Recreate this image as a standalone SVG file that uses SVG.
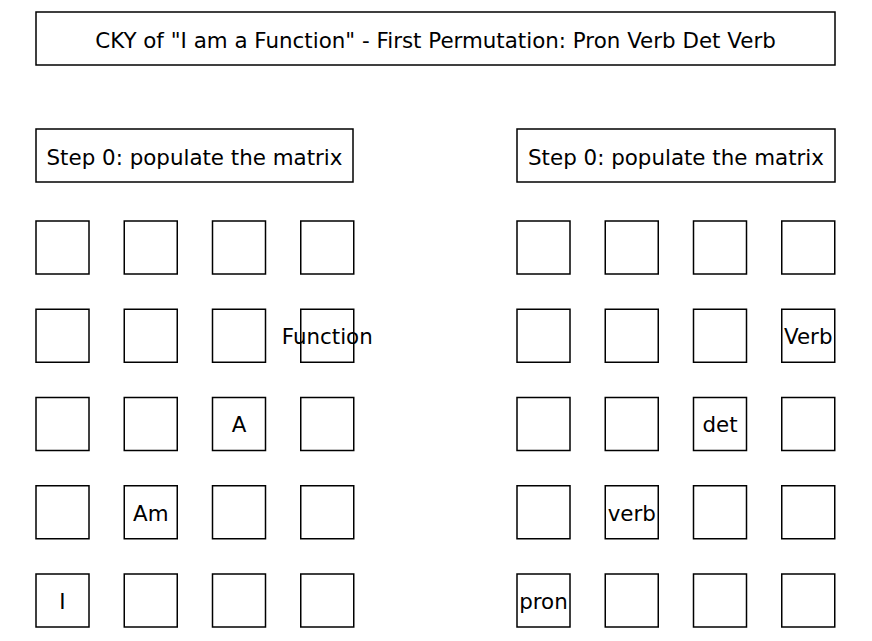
<svg xmlns="http://www.w3.org/2000/svg" width="872" height="641" viewBox="0 0 872 641">
<style>
rect{fill:#fff;stroke:#000;stroke-width:1.5}
text{font-family:"DejaVu Sans",sans-serif;font-size:21.4px;text-anchor:middle;dominant-baseline:central;fill:#000}
</style>
<rect x="0" y="0" width="872" height="641" style="stroke:none"/>
<g id="title"><rect x="36" y="12" width="799" height="53"/><text x="435.5" y="40">CKY of "I am a Function" - First Permutation: Pron Verb Det Verb</text></g>
<g id="stepL"><rect x="36" y="129" width="317" height="53"/><text x="194.5" y="157">Step 0: populate the matrix</text></g>
<g id="stepR"><rect x="517" y="129" width="318" height="53"/><text x="676" y="157">Step 0: populate the matrix</text></g>
<g id="gridL">
<g id="L11"><rect x="36" y="221" width="53" height="53"/></g>
<g id="L12"><rect x="124.25" y="221" width="53" height="53"/></g>
<g id="L13"><rect x="212.5" y="221" width="53" height="53"/></g>
<g id="L14"><rect x="300.75" y="221" width="53" height="53"/></g>
<g id="L21"><rect x="36" y="309.25" width="53" height="53"/></g>
<g id="L22"><rect x="124.25" y="309.25" width="53" height="53"/></g>
<g id="L23"><rect x="212.5" y="309.25" width="53" height="53"/></g>
<g id="L24"><rect x="300.75" y="309.25" width="53" height="53"/><text x="327.25" y="336.5">Function</text></g>
<g id="L31"><rect x="36" y="397.5" width="53" height="53"/></g>
<g id="L32"><rect x="124.25" y="397.5" width="53" height="53"/></g>
<g id="L33"><rect x="212.5" y="397.5" width="53" height="53"/><text x="239" y="424.75">A</text></g>
<g id="L34"><rect x="300.75" y="397.5" width="53" height="53"/></g>
<g id="L41"><rect x="36" y="485.75" width="53" height="53"/></g>
<g id="L42"><rect x="124.25" y="485.75" width="53" height="53"/><text x="150.75" y="513">Am</text></g>
<g id="L43"><rect x="212.5" y="485.75" width="53" height="53"/></g>
<g id="L44"><rect x="300.75" y="485.75" width="53" height="53"/></g>
<g id="L51"><rect x="36" y="574" width="53" height="53"/><text x="62.5" y="601.25">I</text></g>
<g id="L52"><rect x="124.25" y="574" width="53" height="53"/></g>
<g id="L53"><rect x="212.5" y="574" width="53" height="53"/></g>
<g id="L54"><rect x="300.75" y="574" width="53" height="53"/></g>
</g>
<g id="gridR">
<g id="R11"><rect x="517" y="221" width="53" height="53"/></g>
<g id="R12"><rect x="605.25" y="221" width="53" height="53"/></g>
<g id="R13"><rect x="693.5" y="221" width="53" height="53"/></g>
<g id="R14"><rect x="781.75" y="221" width="53" height="53"/></g>
<g id="R21"><rect x="517" y="309.25" width="53" height="53"/></g>
<g id="R22"><rect x="605.25" y="309.25" width="53" height="53"/></g>
<g id="R23"><rect x="693.5" y="309.25" width="53" height="53"/></g>
<g id="R24"><rect x="781.75" y="309.25" width="53" height="53"/><text x="808.25" y="336.5">Verb</text></g>
<g id="R31"><rect x="517" y="397.5" width="53" height="53"/></g>
<g id="R32"><rect x="605.25" y="397.5" width="53" height="53"/></g>
<g id="R33"><rect x="693.5" y="397.5" width="53" height="53"/><text x="720" y="424.75">det</text></g>
<g id="R34"><rect x="781.75" y="397.5" width="53" height="53"/></g>
<g id="R41"><rect x="517" y="485.75" width="53" height="53"/></g>
<g id="R42"><rect x="605.25" y="485.75" width="53" height="53"/><text x="631.75" y="513">verb</text></g>
<g id="R43"><rect x="693.5" y="485.75" width="53" height="53"/></g>
<g id="R44"><rect x="781.75" y="485.75" width="53" height="53"/></g>
<g id="R51"><rect x="517" y="574" width="53" height="53"/><text x="543.5" y="601.25">pron</text></g>
<g id="R52"><rect x="605.25" y="574" width="53" height="53"/></g>
<g id="R53"><rect x="693.5" y="574" width="53" height="53"/></g>
<g id="R54"><rect x="781.75" y="574" width="53" height="53"/></g>
</g>
<g id="connectors"/>
</svg>
